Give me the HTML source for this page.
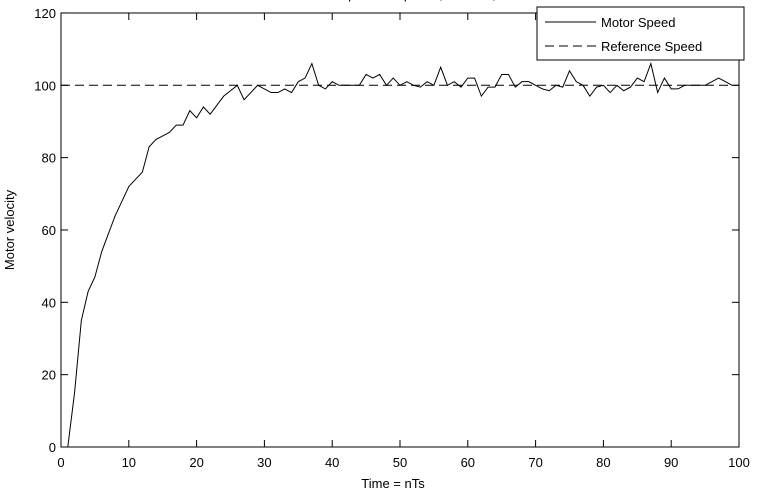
<!DOCTYPE html>
<html><head><meta charset="utf-8"><style>
html,body{margin:0;padding:0;background:#fff;width:769px;height:502px;overflow:hidden}
svg{display:block}
text{font-family:"Liberation Sans",sans-serif;font-size:13px;fill:#000}
</style></head><body>
<svg id="s" width="769" height="502" viewBox="0 0 769 502">
<rect x="0" y="0" width="769" height="502" fill="#fff"/>
<text x="420" y="-1" text-anchor="middle" font-size="13">Motor Speed Response, Ts = 0.1, K = 10</text>
<rect x="61" y="13" width="678" height="434" fill="none" stroke="#000" stroke-width="1"/>
<g id="ticks" stroke="#000" stroke-width="1"></g>
<g id="labels"></g>
<line x1="61" y1="85.3" x2="739" y2="85.3" stroke="#000" stroke-width="1" stroke-dasharray="9,5"/>
<polyline id="p" fill="none" stroke="#000" stroke-width="1"/>
<rect x="537" y="7" width="207" height="53" fill="#fff" stroke="#000"/>
<line x1="545" y1="22" x2="596" y2="22" stroke="#000"/>
<text x="601" y="27" font-size="14">Motor Speed</text>
<line x1="545" y1="46" x2="596" y2="46" stroke="#000" stroke-dasharray="9,5"/>
<text x="601" y="51" font-size="14">Reference Speed</text>
<text x="393" y="488" text-anchor="middle">Time = nTs</text>
<text transform="translate(14,230) rotate(-90)" text-anchor="middle">Motor velocity</text>
</svg>
<script>
var X=function(v){return 61+v*6.78},Y=function(v){return 447-v*3.617};
var t=document.getElementById('ticks'),l=document.getElementById('labels'),h='',lh='';
for(var i=0;i<=10;i++){var x=X(i*10);h+='<line x1="'+x+'" y1="447" x2="'+x+'" y2="440"/><line x1="'+x+'" y1="13" x2="'+x+'" y2="20"/>';
lh+='<text x="'+x+'" y="467" text-anchor="middle" font-size="14">'+(i*10)+'</text>';}
for(var j=0;j<=6;j++){var y=Y(j*20);h+='<line x1="61" y1="'+y+'" x2="68" y2="'+y+'"/><line x1="739" y1="'+y+'" x2="732" y2="'+y+'"/>';
lh+='<text x="56" y="'+(y+5)+'" text-anchor="end" font-size="14">'+(j*20)+'</text>';}
t.innerHTML=h;l.innerHTML=lh;
var d=[0,0,15,35,43,47,54,59,64,68,72,74,76,83,85,86,87,89,89,93,91,94,92,94.5,97,98.5,100,96,98,100,99,98,98,99,98,101,102,106,100,99,101,100,100,100,100,103,102,103,100,102,100,101,100,99.5,101,100,105,100,101,99.5,102,102,97,99.5,99.5,103,103,99.5,101,101,100,99,98.5,100,99.5,104,101,100,97,99.5,100,98,100,98.5,99.5,102,101,106,98,102,99,99,100,100,100,100,101,102,101,100];
var pts=[];for(var k=1;k<d.length;k++)pts.push(X(k)+','+Y(d[k]));
document.getElementById('p').setAttribute('points',pts.join(' '));
</script>
</body></html>
